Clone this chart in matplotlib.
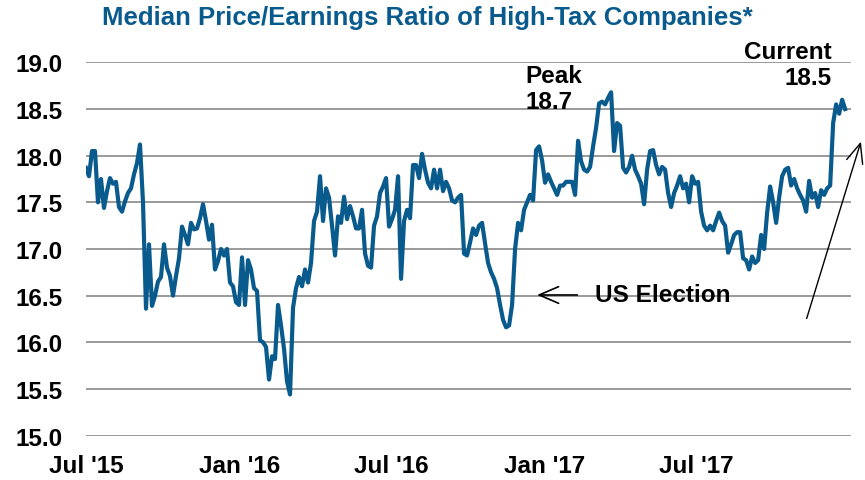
import matplotlib
matplotlib.use('Agg')
import matplotlib.pyplot as plt
import pandas as pd

# Median P/E of high-tax companies (roughly every 3-4 days)
pe_ratio = [
    17.87, 17.78, 18.05, 18.05, 17.50, 17.75, 17.44, 17.62, 17.76, 17.70,
    17.72, 17.45, 17.40, 17.51, 17.60, 17.65, 17.80, 17.92, 18.12, 17.50,
    16.36, 17.05, 16.39, 16.50, 16.65, 16.70, 17.05, 16.80, 16.71, 16.50,
    16.71, 16.90, 17.24, 17.15, 17.05, 17.28, 17.21, 17.22, 17.33, 17.48,
    17.30, 17.10, 17.26, 16.78, 16.87, 17.00, 16.93, 17.00, 16.64, 16.60,
    16.43, 16.40, 16.91, 16.40,
    16.88, 16.78, 16.58, 16.55, 16.02, 16.00, 15.95, 15.60, 15.85, 15.82,
    16.40, 16.18, 15.93, 15.58, 15.44, 16.37, 16.58, 16.70, 16.60, 16.78,
    16.64, 16.85, 17.30, 17.40, 17.78, 17.30, 17.65, 17.55, 17.25, 16.93,
    17.35, 17.28, 17.56, 17.32, 17.46, 17.35, 17.22, 17.22, 17.42, 16.95,
    16.82, 16.80, 17.25, 17.35, 17.60, 17.67, 17.76, 17.24, 17.32, 17.42,
    17.78,
    16.68, 17.30, 17.42, 17.33, 17.90, 17.90, 17.76, 18.02, 17.85, 17.71,
    17.65, 17.85, 17.65, 17.85, 17.62, 17.72, 17.65, 17.52, 17.50, 17.55,
    17.58, 16.95, 16.93, 17.07, 17.22, 17.15, 17.25, 17.28, 17.06, 16.85,
    16.75, 16.68, 16.58, 16.40, 16.24, 16.16, 16.18, 16.40, 17.00, 17.28,
    17.20, 17.42, 17.50, 17.58, 17.52, 18.06, 18.10, 17.95, 17.71, 17.80,
    17.72, 17.65,
    17.58, 17.68, 17.68, 17.72, 17.72, 17.72, 17.58, 18.16, 17.94, 17.85,
    17.83, 17.88, 18.10, 18.30, 18.56, 18.58, 18.55, 18.62, 18.68, 18.05,
    18.35, 18.32, 17.87, 17.82, 17.88, 18.00, 17.85, 17.78, 17.70, 17.48,
    17.85, 18.05, 18.06, 17.90, 17.80, 17.88, 17.85, 17.60, 17.45, 17.60,
    17.68, 17.78, 17.65, 17.70, 17.50, 17.78, 17.70, 17.72, 17.40, 17.25,
    17.20, 17.25,
    17.20, 17.30, 17.39, 17.30, 17.25, 16.96, 17.05, 17.15, 17.18, 17.18,
    16.90, 16.88, 16.78, 16.92, 16.85, 16.88, 17.15, 17.00, 17.39, 17.67,
    17.50, 17.28, 17.55, 17.78, 17.85, 17.87, 17.68, 17.75, 17.65, 17.58,
    17.52, 17.40, 17.73, 17.55, 17.60, 17.45, 17.63, 17.58, 17.65, 17.68,
    18.35, 18.55, 18.45, 18.60, 18.50,
]
dates = pd.date_range('2015-07-01', '2017-12-27', periods=len(pe_ratio))

tick_dates = pd.to_datetime(['2015-07-01', '2016-01-01', '2016-07-01', '2017-01-01', '2017-07-01'])
tick_labels = ["Jul '15", "Jan '16", "Jul '16", "Jan '17", "Jul '17"]
y_ticks = [15.0, 15.5, 16.0, 16.5, 17.0, 17.5, 18.0, 18.5, 19.0]

plt.rcParams['font.family'] = ['Liberation Sans', 'DejaVu Sans']
plt.rcParams['font.weight'] = 'bold'

blue = '#0a5b8d'
fs = 17.5

fig = plt.figure(figsize=(8.65, 4.81), dpi=100)
ax = fig.add_axes([0.0994, 0.0915, 0.8844, 0.7776])

ax.plot(dates, pe_ratio, color=blue, linewidth=3.0, solid_joinstyle='round')

ax.set_ylim(14.995, 19.005)
ax.set_xlim(pd.Timestamp('2015-07-01'), pd.Timestamp('2018-01-03'))
ax.set_yticks(y_ticks)
ax.set_yticklabels([f'{v:.1f}' for v in y_ticks])
ax.set_xticks(tick_dates)
ax.set_xticklabels(tick_labels)
ax.tick_params(axis='both', length=0, labelsize=fs)
ax.tick_params(axis='y', pad=17)
ax.tick_params(axis='x', pad=13)
for lbl in ax.get_xticklabels() + ax.get_yticklabels():
    lbl.set_fontweight('bold')

ax.grid(axis='y', color='#9a9a9a', linewidth=1.4)
ax.set_axisbelow(True)
for s in ax.spines.values():
    s.set_visible(False)

fig.text(0.494, 0.962, 'Median Price/Earnings Ratio of High-Tax Companies*',
         color=blue, fontsize=18.5, fontweight='bold', ha='center', va='center')

ax.text(0.574, 0.995, 'Peak\n18.7', transform=ax.transAxes, ha='left', va='top',
        fontsize=fs, fontweight='bold', linespacing=1.2)
ax.text(0.975, 1.06, 'Current\n18.5', transform=ax.transAxes, ha='right', va='top',
        fontsize=fs, fontweight='bold', linespacing=1.2, multialignment='right')

ax.annotate('', xy=(0.586, 0.377), xytext=(0.646, 0.377), xycoords='axes fraction',
            arrowprops=dict(arrowstyle='->,head_length=0.7,head_width=0.3',
                            color='black', lw=1.2, mutation_scale=20))
ax.text(0.666, 0.377, 'US Election', transform=ax.transAxes, ha='left', va='center',
        fontsize=fs, fontweight='bold')

ax.annotate('', xy=(1.014, 0.794), xytext=(0.941, 0.307), xycoords='axes fraction',
            annotation_clip=False,
            arrowprops=dict(arrowstyle='->,head_length=0.7,head_width=0.3',
                            color='black', lw=1.0, mutation_scale=20))

fig.savefig('out.png', dpi=100)
